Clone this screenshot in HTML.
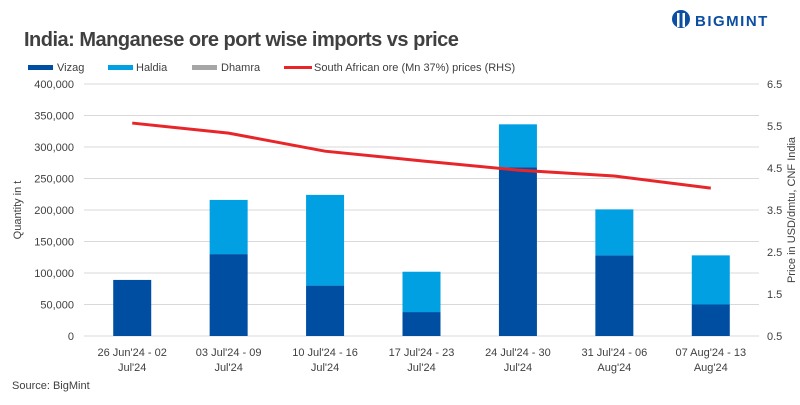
<!DOCTYPE html>
<html><head><meta charset="utf-8"><style>
body{margin:0;background:#fff;font-family:"Liberation Sans",sans-serif;}
svg text{font-family:"Liberation Sans",sans-serif;}
</style></head><body>
<svg width="800" height="400" id="c">
<text x="24" y="46" font-size="20" font-weight="bold" fill="#404040" letter-spacing="-0.5">India: Manganese ore port wise imports vs price</text>
<g>
<circle cx="681" cy="19" r="9" fill="#0b4ea2"/>
<rect x="677" y="13" width="2.5" height="14" fill="#fff"/><rect x="682.5" y="13" width="2.5" height="14" fill="#fff"/>
<text x="695" y="26" font-size="15" font-weight="bold" fill="#0b4ea2" letter-spacing="1.5">BIGMINT</text>
</g>
<g font-size="11" fill="#404040">
<g><rect x="28" y="65" width="25" height="5" fill="#004ea2"/><text x="57" y="71">Vizag</text></g>
<g><rect x="108" y="65" width="25" height="5" fill="#00a0e3"/><text x="136" y="71">Haldia</text></g>
<g><rect x="192" y="65" width="25" height="5" fill="#a6a6a6"/><text x="221" y="71">Dhamra</text></g>
<g><rect x="284" y="66" width="28" height="3" fill="#e8262a"/><text x="314" y="71">South African ore (Mn 37%) prices (RHS)</text></g>
</g>
<g id="grid"></g><g id="bars"></g><g id="line"></g><g id="axes"></g>
<text x="12" y="389" font-size="11" fill="#404040">Source: BigMint</text>
<text transform="translate(21,210) rotate(-90)" text-anchor="middle" font-size="11" fill="#404040">Quantity in t</text>
<text transform="translate(795,210) rotate(-90)" text-anchor="middle" font-size="11" fill="#404040">Price in USD/dmtu, CNF India</text>
</svg>
<script>
const categories=[["26 Jun'24 - 02","Jul'24"],["03 Jul'24 - 09","Jul'24"],["10 Jul'24 - 16","Jul'24"],["17 Jul'24 - 23","Jul'24"],["24 Jul'24 - 30","Jul'24"],["31 Jul'24 - 06","Aug'24"],["07 Aug'24 - 13","Aug'24"]];
const vizag=[89000,130000,80000,38000,268000,128000,50000];
const haldia=[0,86000,144000,64000,68000,73000,78000];
const dhamra=[0,0,0,0,0,0,0];
const price=[5.57,5.33,4.9,4.67,4.45,4.31,4.02];
const leftTicks=[0,50000,100000,150000,200000,250000,300000,350000,400000];
const rightTicks=[0.5,1.5,2.5,3.5,4.5,5.5,6.5];
const NS="http://www.w3.org/2000/svg";
const yTop=84,yBot=336,x0=84,x1=759;
const y=v=>yBot-(v/400000)*(yBot-yTop);
const y2=v=>yBot-((v-0.5)/6)*(yBot-yTop);
const bw=(x1-x0)/categories.length;
const xc=i=>x0+bw*(i+0.5);
function mk(t,a,p){const e=document.createElementNS(NS,t);for(const k in a)e.setAttribute(k,a[k]);document.getElementById(p).appendChild(e);return e;}
leftTicks.forEach(v=>{
 const l=mk('line',{x1:x0,x2:x1,y1:y(v),y2:y(v),stroke:'#d9d9d9','stroke-width':1},'grid');
 
 
 const t=mk('text',{x:74,y:y(v)+4,'text-anchor':'end','font-size':11,fill:'#404040'},'axes');
 t.textContent=v.toLocaleString('en-US');
 
 
});
rightTicks.forEach(v=>{
 const t=mk('text',{x:767,y:y2(v)+4,'font-size':11,fill:'#404040'},'axes');
 t.textContent=v.toFixed(1);
 
 
});
categories.forEach((c,i)=>{
 const w=38,x=xc(i)-w/2;
 const series=[[vizag,'#004ea2','vizag'],[haldia,'#00a0e3','haldia'],[dhamra,'#a6a6a6','dhamra']];
 let base=0;
 series.forEach(([arr,col,nm])=>{
  const v=arr[i]; if(v<=0)return;
  const r=mk('rect',{x:x,y:y(base+v),width:w,height:y(base)-y(base+v),fill:col},'bars');
  
  
  base+=v;
 });
 c.forEach((s,j)=>{
  const t=mk('text',{x:xc(i),y:356+j*15,'text-anchor':'middle','font-size':11,fill:'#404040'},'axes');
  t.textContent=s;
  
  
 });
});
const p=mk('polyline',{points:price.map((v,i)=>xc(i)+','+y2(v)).join(' '),fill:'none',stroke:'#e8262a','stroke-width':3},'line');


</script>
</body></html>
